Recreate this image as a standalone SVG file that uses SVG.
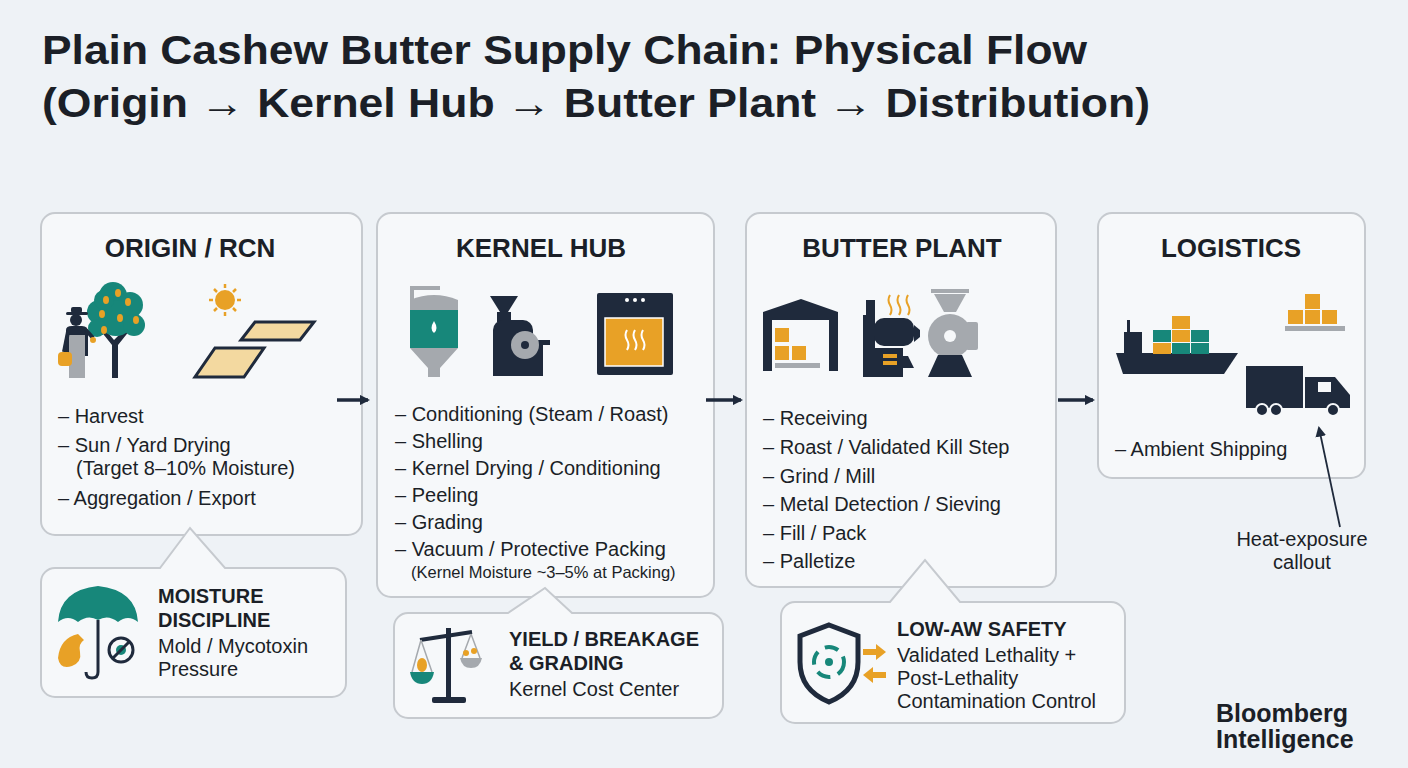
<svg xmlns="http://www.w3.org/2000/svg" width="1408" height="768" viewBox="0 0 1408 768">
<defs>
<style>
.bg{fill:#eef2f6}
.box{fill:#f6f8fa;stroke:#c6cacf;stroke-width:2}
.t{font-family:"Liberation Sans",Arial,sans-serif;fill:#1b1f27}
.title{font-size:41px;font-weight:bold}
.h{font-size:26px;font-weight:bold;text-anchor:middle}
.li{font-size:20px}
.sm{font-size:16.5px}
.cb{font-size:20px;font-weight:bold}
.n{fill:#1f2a3c}.o{fill:#e8a126}.g{fill:#a5a9ae}.tl{fill:#17877a}
.conn{stroke:#1f2a3c;stroke-width:3.5;fill:none}
</style>
<marker id="ah" viewBox="0 0 10 10" refX="8" refY="5" markerWidth="3" markerHeight="3" orient="auto"><path d="M0,0L10,5L0,10z" fill="#1f2a3c"/></marker>
<marker id="ah2" viewBox="0 0 10 10" refX="8" refY="5" markerWidth="6" markerHeight="6" orient="auto"><path d="M0,0L10,5L0,10z" fill="#1f2a3c"/></marker>
</defs>
<rect class="bg" width="1408" height="768"/>
<text class="t title" x="42" y="64" textLength="1045" lengthAdjust="spacingAndGlyphs">Plain Cashew Butter Supply Chain: Physical Flow</text>
<text class="t title" x="42" y="117" textLength="1108" lengthAdjust="spacingAndGlyphs">(Origin → Kernel Hub → Butter Plant → Distribution)</text>

<g id="origin">
<rect class="box" x="41" y="213" width="321" height="322" rx="14"/>
<text class="t h" x="190" y="257">ORIGIN / RCN</text>
<!-- tree -->
<path class="n" d="M112,378V345L100,330L104,328L114,340L126,328L130,330L118,345V378z"/>
<circle class="tl" cx="113" cy="296" r="14"/><circle class="tl" cx="99" cy="312" r="12"/><circle class="tl" cx="130" cy="305" r="13"/>
<circle class="tl" cx="116" cy="318" r="18"/><circle class="tl" cx="97" cy="328" r="9"/><circle class="tl" cx="134" cy="325" r="11"/><circle class="tl" cx="104" cy="300" r="10"/>
<g class="o"><ellipse cx="106" cy="300" rx="3" ry="4"/><ellipse cx="118" cy="293" rx="3" ry="4"/><ellipse cx="128" cy="302" rx="3" ry="4"/><ellipse cx="102" cy="314" rx="3" ry="4"/><ellipse cx="120" cy="318" rx="3" ry="4"/><ellipse cx="136" cy="320" rx="3" ry="4"/><ellipse cx="104" cy="330" rx="3" ry="4"/></g>
<!-- farmer -->
<circle class="n" cx="76" cy="320" r="6"/><rect class="n" x="66" y="312" width="22" height="3" rx="1.5"/><rect class="n" x="71" y="307" width="11" height="6" rx="2"/>
<path class="n" d="M66,330Q66,326 72,326H82Q88,326 88,332V356H66z"/>
<rect class="g" x="69" y="335" width="16" height="43"/>
<line x1="86" y1="330" x2="93" y2="338" stroke="#1f2a3c" stroke-width="4"/>
<circle class="o" cx="93" cy="340" r="3"/>
<line x1="68" y1="332" x2="64" y2="352" stroke="#1f2a3c" stroke-width="4"/>
<rect class="o" x="58" y="352" width="14" height="14" rx="4"/>
<!-- sun -->
<circle class="o" cx="183" cy="300" r="10" transform="translate(42,0)"/>
<g stroke="#e8a126" stroke-width="2.5" transform="translate(42,0)"><line x1="183" y1="284" x2="183" y2="288"/><line x1="183" y1="312" x2="183" y2="316"/><line x1="167" y1="300" x2="171" y2="300"/><line x1="195" y1="300" x2="199" y2="300"/><line x1="172" y1="289" x2="175" y2="292"/><line x1="194" y1="289" x2="191" y2="292"/><line x1="172" y1="311" x2="175" y2="308"/><line x1="194" y1="311" x2="191" y2="308"/></g>
<!-- trays -->
<polygon points="255,322 314,322 300,340 241,340" fill="#f3d9a0" stroke="#1f2a3c" stroke-width="3"/>
<polygon points="215,348 264,348 244,377 195,377" fill="#f3d9a0" stroke="#1f2a3c" stroke-width="3"/>
<g id="origin-text">
<text class="t li" x="58" y="423">– Harvest</text>
<text class="t li" x="58" y="452">– Sun / Yard Drying</text>
<text class="t li" x="76" y="475">(Target 8–10% Moisture)</text>
<text class="t li" x="58" y="505">– Aggregation / Export</text>
</g>
</g>

<g id="kernel">
<rect class="box" x="377" y="213" width="337" height="384" rx="14"/>
<text class="t h" x="541" y="257">KERNEL HUB</text>
<path d="M317,340V288H345" stroke="#a5a9ae" stroke-width="4" fill="none" transform="translate(95,0)"/>
<path class="g" d="M410,300Q434,290 458,300V310H410z"/>
<rect class="tl" x="410" y="310" width="48" height="38"/>
<path d="M434,321q-5,8 0,12q5,-4 0,-12z" fill="#fff"/>
<path class="g" d="M410,348H458L440,368V377H428V368z"/>
<polygon class="n" points="490,296 518,296 508,312 500,312"/>
<rect class="n" x="497" y="312" width="14" height="10"/>
<rect class="n" x="493" y="320" width="40" height="38" rx="10"/>
<rect class="n" x="493" y="340" width="50" height="36"/>
<circle class="g" cx="525" cy="345" r="14"/>
<circle class="n" cx="525" cy="345" r="4"/>
<rect class="n" x="543" y="340" width="7" height="5"/>
<rect class="n" x="597" y="293" width="76" height="82" rx="2"/>
<circle cx="627" cy="300" r="2" fill="#fff"/><circle cx="635" cy="300" r="2" fill="#fff"/><circle cx="643" cy="300" r="2" fill="#fff"/>
<rect class="o" x="605" y="318" width="58" height="48" stroke="#fff" stroke-width="1.5"/>
<g stroke="#fff" stroke-width="2" fill="none"><path d="M627,330q-3,5 0,10q3,5 0,10"/><path d="M635,330q-3,5 0,10q3,5 0,10"/><path d="M643,330q-3,5 0,10q3,5 0,10"/></g>
<g id="kernel-text">
<text class="t li" x="395" y="421">– Conditioning (Steam / Roast)</text>
<text class="t li" x="395" y="448">– Shelling</text>
<text class="t li" x="395" y="475">– Kernel Drying / Conditioning</text>
<text class="t li" x="395" y="502">– Peeling</text>
<text class="t li" x="395" y="529">– Grading</text>
<text class="t li" x="395" y="556">– Vacuum / Protective Packing</text>
<text class="t sm" x="411" y="578">(Kernel Moisture ~3–5% at Packing)</text>
</g>
</g>

<g id="butter">
<rect class="box" x="746" y="213" width="310" height="374" rx="14"/>
<text class="t h" x="902" y="257">BUTTER PLANT</text>
<path class="n" d="M763,312L801,299L838,312V371H829V320H772V371H763z"/>
<rect class="o" x="775" y="328" width="14" height="14"/><rect class="o" x="775" y="346" width="14" height="14"/><rect class="o" x="792" y="346" width="14" height="14"/>
<rect class="g" x="775" y="363" width="45" height="5"/>
<rect class="n" x="866" y="300" width="9" height="16"/>
<rect class="n" x="863" y="315" width="12" height="62"/>
<rect class="n" x="874" y="318" width="40" height="28" rx="10"/>
<polygon class="n" points="914,325 920,330 920,337 914,342"/>
<path class="n" d="M875,348H903V356H908L914,368H903V377H875z"/>
<rect class="o" x="883" y="354" width="14" height="4"/><rect class="o" x="883" y="361" width="14" height="4"/>
<g stroke="#e8a126" stroke-width="2" fill="none"><path d="M890,295q-3,5 0,10q3,5 0,10"/><path d="M899,295q-3,5 0,10q3,5 0,10"/><path d="M908,295q-3,5 0,10q3,5 0,10"/></g>
<rect class="g" x="931" y="289" width="38" height="4"/>
<polygon class="g" points="934,294 966,294 956,312 944,312"/>
<circle class="g" cx="950" cy="336" r="22"/>
<rect class="g" x="966" y="322" width="12" height="28" rx="2"/>
<circle cx="950" cy="336" r="6" fill="#f6f8fa"/>
<path class="n" d="M938,355H962L972,377H928z"/>
<g id="butter-text">
<text class="t li" x="763" y="425">– Receiving</text>
<text class="t li" x="763" y="454">– Roast / Validated Kill Step</text>
<text class="t li" x="763" y="483">– Grind / Mill</text>
<text class="t li" x="763" y="511">– Metal Detection / Sieving</text>
<text class="t li" x="763" y="540">– Fill / Pack</text>
<text class="t li" x="763" y="568">– Palletize</text>
</g>
</g>

<g id="logistics">
<rect class="box" x="1098" y="213" width="267" height="265" rx="14"/>
<text class="t h" x="1231" y="257">LOGISTICS</text>
<path class="n" d="M1116,353H1238L1224,374H1123z"/>
<rect class="n" x="1124" y="332" width="18" height="22"/><rect class="n" x="1127" y="320" width="3" height="14"/>
<rect class="o" x="1153" y="343" width="18" height="11"/><rect class="tl" x="1172" y="343" width="18" height="11"/><rect class="tl" x="1191" y="343" width="18" height="11"/>
<rect class="tl" x="1153" y="330" width="18" height="12"/><rect class="o" x="1172" y="330" width="18" height="12"/><rect class="tl" x="1191" y="330" width="18" height="12"/>
<rect class="o" x="1172" y="316" width="18" height="13"/>
<rect class="o" x="1288" y="310" width="15" height="14"/><rect class="o" x="1305" y="310" width="15" height="14"/><rect class="o" x="1322" y="310" width="15" height="14"/><rect class="o" x="1305" y="294" width="15" height="15"/>
<rect class="g" x="1285" y="326" width="60" height="5"/>
<rect class="n" x="1246" y="366" width="57" height="42"/>
<path class="n" d="M1305,377H1335L1350,395V408H1305z"/>
<rect x="1318" y="382" width="13" height="10" fill="#f6f8fa"/>
<g fill="#1f2a3c" stroke="#f6f8fa" stroke-width="2"><circle cx="1262" cy="410" r="6"/><circle cx="1276" cy="410" r="6"/><circle cx="1333" cy="410" r="6"/></g>
<text class="t li" x="1115" y="456">– Ambient Shipping</text>
</g>

<g id="moisture">
<path class="box" d="M55,568H160L190,528L225,568H332a14,14 0 0 1 14,14V683a14,14 0 0 1-14,14H55a14,14 0 0 1-14-14V582a14,14 0 0 1 14-14z"/>
<path class="tl" d="M58,622Q60,590 98,586Q136,590 138,622Q128,614 118,622Q108,614 98,620Q88,614 78,622Q68,614 58,622z"/>
<path d="M98,620V672q0,6-6,6q-6,0-6-6" stroke="#1f2a3c" stroke-width="3" fill="none"/>
<path class="o" d="M78,634q-18,4-20,24q2,12 14,8q10-4 8-14q-2-8 4-12z"/>
<circle cx="121" cy="650" r="12" fill="none" stroke="#1f2a3c" stroke-width="3"/><circle cx="121" cy="650" r="5" class="tl"/><line x1="113" y1="658" x2="129" y2="642" stroke="#1f2a3c" stroke-width="3"/>
<text class="t cb" x="158" y="603">MOISTURE</text>
<text class="t cb" x="158" y="627">DISCIPLINE</text>
<text class="t li" x="158" y="653">Mold / Mycotoxin</text>
<text class="t li" x="158" y="676">Pressure</text>
</g>

<g id="yield">
<path class="box" d="M408,613H508L545,588L572,613H709a14,14 0 0 1 14,14V704a14,14 0 0 1-14,14H408a14,14 0 0 1-14-14V627a14,14 0 0 1 14-14z"/>
<rect class="n" x="446" y="628" width="5" height="72"/><rect class="n" x="432" y="697" width="34" height="6" rx="2"/>
<line x1="420" y1="640" x2="472" y2="632" stroke="#1f2a3c" stroke-width="4"/>
<g stroke="#a5a9ae" stroke-width="1.5" fill="none"><path d="M421,640L412,672M421,640L432,672M471,634L462,658M471,634L480,658"/></g>
<path class="tl" d="M410,672H434Q432,684 422,684Q412,684 410,672z"/>
<ellipse class="o" cx="422" cy="665" rx="5" ry="7"/>
<path class="g" d="M460,658H482Q480,668 471,668Q462,668 460,658z"/>
<circle class="o" cx="466" cy="653" r="3"/><circle class="o" cx="474" cy="651" r="3"/>
<text class="t cb" x="509" y="646">YIELD / BREAKAGE</text>
<text class="t cb" x="509" y="670">&amp; GRADING</text>
<text class="t li" x="509" y="696">Kernel Cost Center</text>
</g>

<g id="lowaw">
<path class="box" d="M795,602H890L925,560L960,602H1111a14,14 0 0 1 14,14V709a14,14 0 0 1-14,14H795a14,14 0 0 1-14-14V616a14,14 0 0 1 14-14z"/>
<path d="M829,625L858,636V662Q858,690 829,702Q800,690 800,662V636z" fill="#f6f8fa" stroke="#1f2a3c" stroke-width="5"/>
<circle cx="829" cy="662" r="15" fill="none" stroke="#17877a" stroke-width="4" stroke-dasharray="14 8"/>
<circle class="tl" cx="829" cy="662" r="4"/>
<path class="o" d="M863,649H876V644L886,652L876,660V655H863z"/>
<path class="o" d="M886,672H873V667L863,675L873,683V678H886z"/>
<text class="t cb" x="897" y="636">LOW-AW SAFETY</text>
<text class="t li" x="897" y="662">Validated Lethality +</text>
<text class="t li" x="897" y="685">Post-Lethality</text>
<text class="t li" x="897" y="708">Contamination Control</text>
</g>

<g id="connectors">
<line class="conn" x1="337" y1="400" x2="368" y2="400" marker-end="url(#ah)"/>
<line class="conn" x1="706" y1="400" x2="741" y2="400" marker-end="url(#ah)"/>
<line class="conn" x1="1058" y1="400" x2="1093" y2="400" marker-end="url(#ah)"/>
<line x1="1340" y1="527" x2="1319" y2="428" stroke="#1f2a3c" stroke-width="1.8" marker-end="url(#ah2)"/>
</g>
<text class="t li" x="1302" y="546" text-anchor="middle">Heat-exposure</text>
<text class="t li" x="1302" y="569" text-anchor="middle">callout</text>
<text class="t" x="1216" y="722" style="font-size:25px;font-weight:bold">Bloomberg</text>
<text class="t" x="1216" y="748" style="font-size:25px;font-weight:bold">Intelligence</text>
</svg>
